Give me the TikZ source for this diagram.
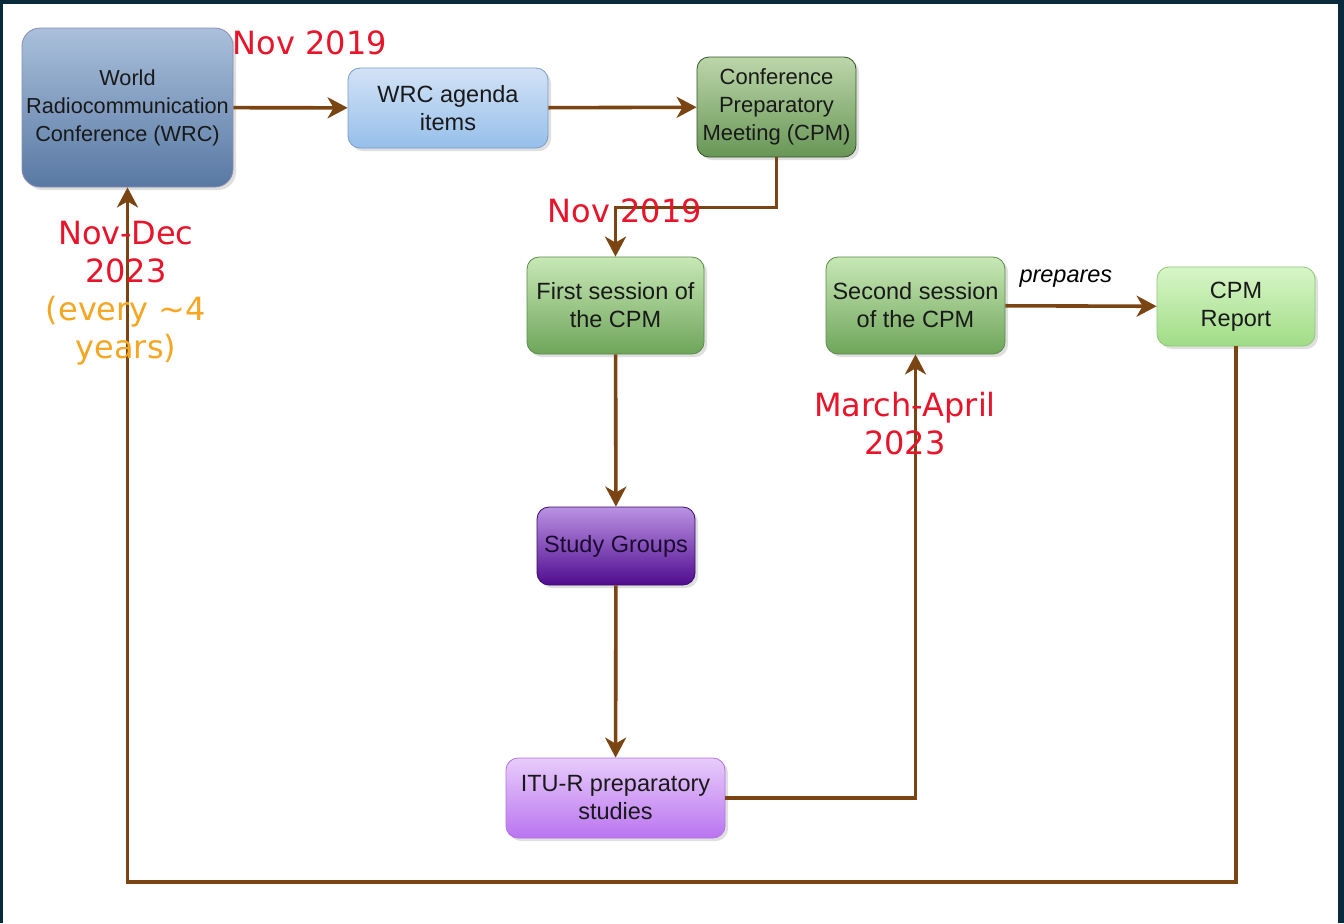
\documentclass[tikz,border=0pt]{standalone}
\usepackage{fontspec}
\setmainfont{Liberation Sans}
\newfontfamily\datefont{DejaVu Sans}
\usetikzlibrary{arrows.meta}
\usetikzlibrary{shadows}

\definecolor{framedark}{RGB}{8,42,58}
\definecolor{flowbrown}{RGB}{122,69,19}
\definecolor{datered}{RGB}{232,20,42}
\definecolor{cycleorange}{RGB}{245,166,35}

\begin{document}
\begin{tikzpicture}[x=0.5pt,y=-0.5pt,
  box/.style={draw, rounded corners=6pt, align=center, inner sep=0pt,
    font=\fontsize{11.75}{14}\selectfont, text=black!90,
    drop shadow={opacity=0.25,shadow xshift=1.5pt,shadow yshift=-1.5pt}},
  flow/.style={draw=flowbrown, line width=1.8pt, -{Stealth[length=10pt,width=10.5pt,inset=3pt]}},
  datelbl/.style={font=\datefont\fontsize{16}{19}\selectfont, text=datered, align=center, inner sep=0pt}]

\useasboundingbox (0,0) rectangle (1344,923);
\fill[framedark] (0,0) rectangle (1344,923);
\fill[white] (3,4) rectangle (1338,923);

% boxes
\node[box, rounded corners=9pt, draw=blue!30!black!45, top color={rgb,255:red,170;green,192;blue,220}, bottom color={rgb,255:red,88;green,120;blue,163},
  minimum width=105.5pt, minimum height=79.5pt, font=\fontsize{10.85}{14}\selectfont] (wrc) at (127.5,107.5) {World\\Radiocommunication\\Conference (WRC)};
\node[box, draw={rgb,255:red,120;green,156;blue,200}, top color={rgb,255:red,210;green,226;blue,246}, bottom color={rgb,255:red,150;green,191;blue,234},
  minimum width=100pt, minimum height=40pt] (agenda) at (448,108) {WRC agenda\\items};
\node[box, draw={rgb,255:red,52;green,82;blue,40}, top color={rgb,255:red,188;green,214;blue,170}, bottom color={rgb,255:red,104;green,150;blue,86},
  minimum width=79.5pt, minimum height=50pt, font=\fontsize{11}{14}\selectfont] (cpm) at (776.5,107) {Conference\\Preparatory\\Meeting (CPM)};
\node[box, draw={rgb,255:red,90;green,140;blue,72}, top color={rgb,255:red,200;green,232;blue,182}, bottom color={rgb,255:red,110;green,165;blue,90},
  minimum width=88.5pt, minimum height=48.5pt] (first) at (615.5,305.5) {First session of\\the CPM};
\node[box, draw={rgb,255:red,90;green,140;blue,72}, top color={rgb,255:red,200;green,232;blue,182}, bottom color={rgb,255:red,110;green,165;blue,90},
  minimum width=89.5pt, minimum height=48.5pt] (second) at (915.5,305.5) {Second session\\of the CPM};
\node[box, draw={rgb,255:red,140;green,200;blue,118}, top color={rgb,255:red,216;green,246;blue,200}, bottom color={rgb,255:red,160;green,220;blue,134},
  minimum width=79pt, minimum height=39.5pt] (report) at (1236,306.5) {CPM\\Report};
\node[box, draw={rgb,255:red,58;green,10;blue,106}, top color={rgb,255:red,186;green,146;blue,226}, bottom color={rgb,255:red,80;green,12;blue,144},
  minimum width=79pt, minimum height=39pt, text={rgb,255:red,26;green,10;blue,48}] (study) at (616,546) {Study Groups};
\node[box, draw={rgb,255:red,180;green,115;blue,230}, top color={rgb,255:red,232;green,204;blue,251}, bottom color={rgb,255:red,186;green,116;blue,240},
  minimum width=109.5pt, minimum height=40pt] (itur) at (615.5,798) {ITU-R preparatory\\studies};

% connectors
\coordinate (loop) at (700,882);
\draw[flow] (wrc) -- (agenda);
\draw[flow] (agenda) -- (cpm);
\draw[flow] (cpm.south) -- ++(0,50) -| (first.north);
\draw[flow] (first) -- (study);
\draw[flow] (study) -- (itur);
\draw[flow] (itur.east) -| (second.south);
\draw[flow] (second) -- (report) node[pos=.4,above=5pt,font=\fontsize{11.75}{14}\selectfont\itshape]{prepares};
\draw[flow] (report.south) |- (loop) -| (wrc.south);

% dates
\node[datelbl] (d1) at (310,43) {Nov 2019};
\node[datelbl] (d2) at (625,211) {Nov 2019};
\node[datelbl] (d3) at (126,293) {Nov-Dec\\2023\\\textcolor{cycleorange}{(every \textasciitilde4}\\\textcolor{cycleorange}{years)}};
\node[datelbl] (d4) at (905,424) {March-April\\2023};
\end{tikzpicture}
\end{document}
